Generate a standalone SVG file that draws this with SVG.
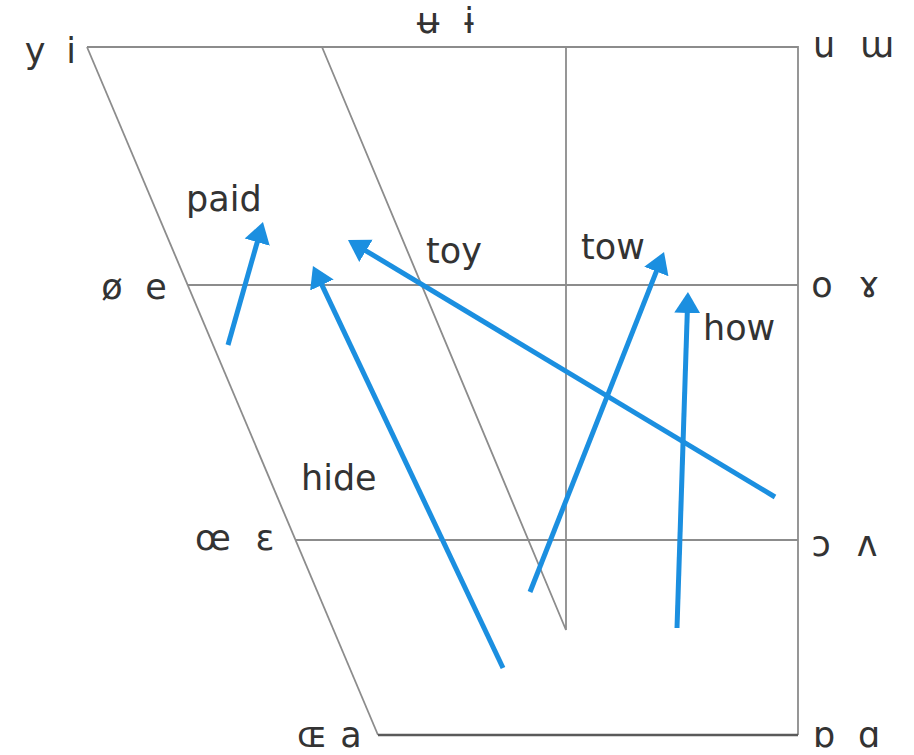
<svg xmlns="http://www.w3.org/2000/svg" width="914" height="755" viewBox="0 0 914 755">
<style>
.g{stroke:#8c8c8c;stroke-width:1.8;fill:none}
.b{stroke:#1b8fe0;stroke-width:5;fill:none}
.t{font-family:"DejaVu Sans","Liberation Sans",sans-serif;font-size:35px;fill:#333}
.m{text-anchor:middle}
</style>
<defs>
<marker id="ah" markerUnits="userSpaceOnUse" markerWidth="24" markerHeight="30" viewBox="0 -14 24 28" refX="1" refY="0" orient="auto">
<path d="M0,-13 L21,0 L0,13 Z" fill="#1b8fe0"/>
</marker>
</defs>
<rect width="914" height="755" fill="#fff"/>
<g id="chart">
<path class="g" d="M87,47 L798,47 L798,735" stroke-width="2"/>
<path class="g" d="M87,47 L378,735"/>
<path class="g" d="M188,285 L798,285"/>
<path class="g" d="M296,540 L798,540"/>
<path class="g" d="M322,47 L566,630 L566,47"/>
<path d="M378,735 L798,735" stroke="#5a5a5a" stroke-width="2.6" fill="none"/>
</g>
<g id="vowels" class="t m">
<text x="35" y="63">y</text><text x="71" y="63">i</text>
<text x="428" y="33">ʉ</text><text x="469" y="33">ɨ</text>
<text x="824" y="57">u</text><text x="877" y="57">ɯ</text>
<text x="112" y="299">ø</text><text x="156" y="299">e</text>
<text x="822" y="297">o</text><text x="869" y="297">ɤ</text>
<text x="213" y="550">œ</text><text x="265" y="550">ɛ</text>
<text x="821" y="556">ɔ</text><text x="867" y="556">ʌ</text>
<text x="312" y="747">ɶ</text><text x="351" y="747">a</text>
<text x="824" y="747">ɒ</text><text x="869" y="747">ɑ</text>
</g>
<g id="connectors">
<path class="b" marker-end="url(#ah)" d="M228,345 L257.5,241.2"/>
<path class="b" marker-end="url(#ah)" d="M503,668 L321.5,284.1"/>
<path class="b" marker-end="url(#ah)" d="M775,497 L365.1,250.3"/>
<path class="b" marker-end="url(#ah)" d="M530,592 L656.7,270.6"/>
<path class="b" marker-end="url(#ah)" d="M677,628 L687.3,312"/>
</g>
<g id="paid"><text class="t" x="186" y="211">paid</text></g>
<g id="toy"><text class="t" x="426" y="263">toy</text></g>
<g id="tow"><text class="t" x="581" y="259">tow</text></g>
<g id="how"><text class="t" x="703" y="340">how</text></g>
<g id="hide"><text class="t" x="301" y="490">hide</text></g>
</svg>
